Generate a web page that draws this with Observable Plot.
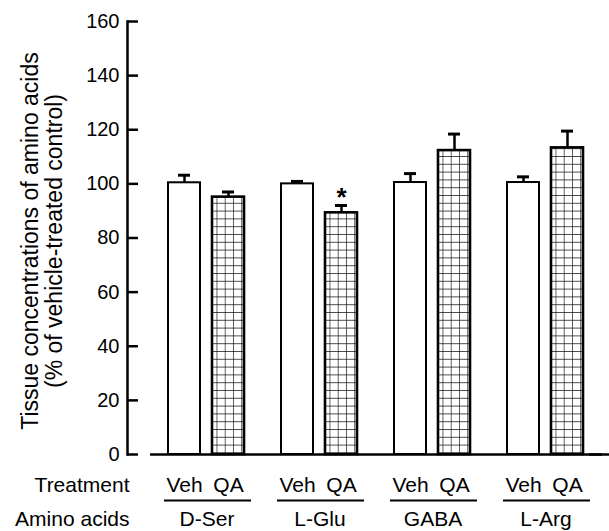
<!DOCTYPE html>
<html>
<head>
<meta charset="utf-8">
<script src="https://cdn.jsdelivr.net/npm/d3@7"></script>
<script src="https://cdn.jsdelivr.net/npm/@observablehq/plot@0.6"></script>
<style>
  html, body { margin: 0; padding: 0; background: #fff; }
  svg { display: block; }
</style>
</head>
<body>
<div id="chart"></div>
<script>
// ---- data ----
const aminoAcids = ["D-Ser", "L-Glu", "GABA", "L-Arg"];
const treatments = ["Veh", "QA"];
const vehMeans  = [100.4, 100.0, 100.5, 100.5];
const vehErrors = [2.8, 0.9, 3.3, 2.1];
const qaMeans   = [95.1, 89.3, 112.3, 113.3];
const qaErrors  = [1.9, 2.7, 6.1, 6.2];
const qaSignificant = [false, true, false, false];
const yTicks = [0, 20, 40, 60, 80, 100, 120, 140, 160];
const yTitle = ["Tissue concentrations of amino acids", "(% of vehicle-treated control)"];
const rowLabels = ["Treatment", "Amino acids"];

const rows = [];
aminoAcids.forEach((acid, i) => {
  rows.push({acid, trt: "Veh", value: vehMeans[i], err: vehErrors[i], sig: false});
  rows.push({acid, trt: "QA", value: qaMeans[i], err: qaErrors[i], sig: qaSignificant[i]});
});
const errTop = d => d.value + d.err;

const font = "'Liberation Sans', Arial, Helvetica, sans-serif";

const svg = Plot.plot({
  width: 609,
  height: 531,
  marginTop: 21,
  marginBottom: 77,
  marginLeft: 148,
  marginRight: 5.8,
  style: {fontFamily: font, background: "white", color: "black", overflow: "visible"},
  fx: {domain: aminoAcids, paddingInner: 0, paddingOuter: 0},
  x: {domain: treatments, paddingInner: 0.2667, paddingOuter: 0.398},
  y: {domain: [0, 160]},
  marks: [
    Plot.barY(rows.filter(d => d.trt === "Veh"), {fx: "acid", x: "trt", y: "value", fill: "white", stroke: "black", strokeWidth: 2}),
    Plot.barY(rows.filter(d => d.trt === "QA"), {fx: "acid", x: "trt", y: "value", fill: "url(#grid)", stroke: "black", strokeWidth: 2.6}),
    Plot.ruleX(rows, {fx: "acid", x: "trt", y1: "value", y2: errTop, stroke: "black", strokeWidth: 2.5}),
    Plot.tickY(rows, {fx: "acid", x: "trt", y: errTop, stroke: "black", strokeWidth: 3, insetLeft: 10, insetRight: 10}),
    Plot.text(rows.filter(d => d.sig), {fx: "acid", x: "trt", y: errTop, text: () => "*", fontSize: 26, fontWeight: "bold", lineAnchor: "bottom", dy: 0, fill: "black"}),
    // baseline
    Plot.ruleY([0], {stroke: "black", strokeWidth: 2.5}),
    Plot.ruleY([0], {facetAnchor: "right", insetLeft: 100, insetRight: -7, stroke: "black", strokeWidth: 2.5}),
    // group underlines
    Plot.ruleY([0], {dy: 46, insetLeft: 14, insetRight: 12, stroke: "black", strokeWidth: 2}),
    // y axis line
    Plot.frame({anchor: "left", facetAnchor: "left", dx: -23, stroke: "black", strokeWidth: 2.5}),
    Plot.axisY({ticks: yTicks, tickSize: 11, tickPadding: 8, dx: -12, stroke: "black", strokeWidth: 2.5, fill: "black", fontSize: 20, label: null, tickFormat: d => String(d)}),
    Plot.axisX({tickSize: 0, tickPadding: 23, fontSize: 21, fill: "black", label: null}),
    Plot.axisFx({anchor: "bottom", tickSize: 0, tickPadding: 57, fontSize: 21, fill: "black", label: null}),
    Plot.text([rowLabels[0]], {frameAnchor: "bottom-left", textAnchor: "end", lineAnchor: "top", dx: -21, dy: 23, fontSize: 21, fill: "black", facetAnchor: "left"}),
    Plot.text([rowLabels[1]], {frameAnchor: "bottom-left", textAnchor: "end", lineAnchor: "top", dx: -21, dy: 57, fontSize: 21, fill: "black", facetAnchor: "left"}),
    Plot.text([yTitle.join("\n")], {frameAnchor: "left", rotate: -90, textAnchor: "middle", lineAnchor: "middle", lineHeight: 1.02, dx: -108, dy: 3, fontSize: 23, fill: "black", facetAnchor: "left"})
  ]
});

// cross-hatch pattern for QA bars, aligned to the bar's left edge
const sel = d3.select(svg);
const qaRect = sel.selectAll("rect").filter(function(){ return this.getAttribute("fill") === "url(#grid)"; }).node();
let px = 0, pw = 8.25;
if (qaRect) {
  px = +qaRect.getAttribute("x") || 0;
  pw = (+qaRect.getAttribute("width") || 33) / 4;
}
const ph = 7.8;
const defs = sel.insert("defs", ":first-child");
const pat = defs.append("pattern")
  .attr("id", "grid")
  .attr("patternUnits", "userSpaceOnUse")
  .attr("x", px).attr("y", 0)
  .attr("width", pw).attr("height", ph);
pat.append("rect").attr("width", pw).attr("height", ph).attr("fill", "white");
pat.append("path")
  .attr("d", `M0,0V${ph}M0,0H${pw}`)
  .attr("stroke", "#111").attr("stroke-width", 1.3).attr("fill", "none");

document.getElementById("chart").appendChild(svg);
</script>
</body>
</html>
